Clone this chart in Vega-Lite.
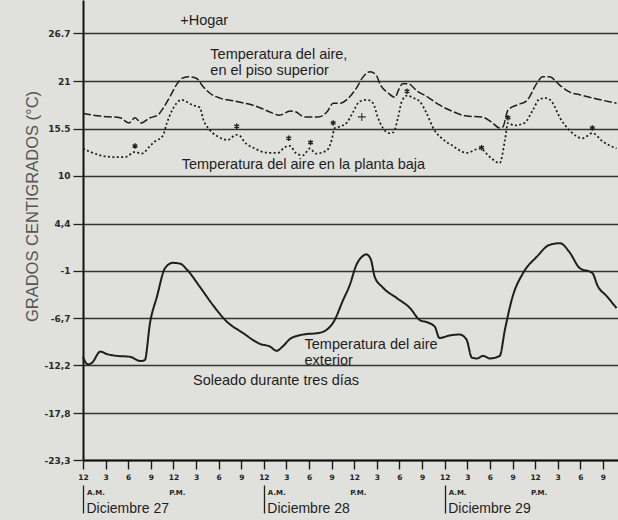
{
  "$schema": "https://vega.github.io/schema/vega-lite/v6.json",
  "width": 535,
  "height": 460,
  "autosize": {"type": "none"},
  "padding": {"left": 83, "top": 0, "right": 0, "bottom": 60},
  "background": "#e0e0dc",
  "config": {
    "view": {"stroke": null},
    "font": "Liberation Sans",
    "axis": {"labelOverlap": false, "labelFlush": false, "grid": false}
  },
  "datasets": {
    "aire": [
      {"h": 0, "t": 17.3, "serie": "superior"}, {"h": 2.3, "t": 17.0, "serie": "superior"}, {"h": 4.9, "t": 16.8, "serie": "superior"},
      {"h": 6.1, "t": 16.2, "serie": "superior"}, {"h": 6.9, "t": 16.8, "serie": "superior"}, {"h": 7.7, "t": 16.2, "serie": "superior"},
      {"h": 8.9, "t": 16.8, "serie": "superior"}, {"h": 9.9, "t": 17.1, "serie": "superior"}, {"h": 10.7, "t": 18.0, "serie": "superior"},
      {"h": 11.5, "t": 19.2, "serie": "superior"}, {"h": 12.5, "t": 20.8, "serie": "superior"}, {"h": 13.3, "t": 21.5, "serie": "superior"},
      {"h": 14.2, "t": 21.6, "serie": "superior"}, {"h": 15.1, "t": 21.4, "serie": "superior"}, {"h": 15.9, "t": 20.5, "serie": "superior"},
      {"h": 16.8, "t": 19.7, "serie": "superior"}, {"h": 18.2, "t": 19.1, "serie": "superior"}, {"h": 19.9, "t": 18.8, "serie": "superior"},
      {"h": 21.5, "t": 18.5, "serie": "superior"}, {"h": 22.8, "t": 18.2, "serie": "superior"}, {"h": 24.5, "t": 17.6, "serie": "superior"},
      {"h": 26.1, "t": 17.1, "serie": "superior"}, {"h": 27.5, "t": 17.6, "serie": "superior"}, {"h": 28.2, "t": 17.5, "serie": "superior"},
      {"h": 29.4, "t": 16.9, "serie": "superior"}, {"h": 31.2, "t": 16.9, "serie": "superior"}, {"h": 32.4, "t": 17.5, "serie": "superior"},
      {"h": 33.2, "t": 18.5, "serie": "superior"}, {"h": 34.1, "t": 18.5, "serie": "superior"}, {"h": 35.1, "t": 19.0, "serie": "superior"},
      {"h": 36.3, "t": 20.3, "serie": "superior"}, {"h": 37.1, "t": 21.5, "serie": "superior"}, {"h": 38.1, "t": 22.2, "serie": "superior"},
      {"h": 38.9, "t": 21.8, "serie": "superior"}, {"h": 39.5, "t": 20.6, "serie": "superior"}, {"h": 40.5, "t": 19.7, "serie": "superior"},
      {"h": 41.4, "t": 19.2, "serie": "superior"}, {"h": 41.9, "t": 20.1, "serie": "superior"}, {"h": 42.4, "t": 20.8, "serie": "superior"},
      {"h": 43.1, "t": 20.8, "serie": "superior"}, {"h": 44.4, "t": 19.9, "serie": "superior"}, {"h": 45.8, "t": 19.2, "serie": "superior"},
      {"h": 47.3, "t": 18.3, "serie": "superior"}, {"h": 48.9, "t": 17.6, "serie": "superior"}, {"h": 50.9, "t": 17.0, "serie": "superior"},
      {"h": 52.9, "t": 16.9, "serie": "superior"}, {"h": 54.2, "t": 16.3, "serie": "superior"}, {"h": 55.3, "t": 15.6, "serie": "superior"},
      {"h": 55.7, "t": 15.7, "serie": "superior"}, {"h": 56.4, "t": 17.7, "serie": "superior"}, {"h": 57.6, "t": 18.3, "serie": "superior"},
      {"h": 58.9, "t": 18.8, "serie": "superior"}, {"h": 60.2, "t": 20.8, "serie": "superior"}, {"h": 61.0, "t": 21.6, "serie": "superior"},
      {"h": 61.9, "t": 21.6, "serie": "superior"}, {"h": 63.3, "t": 20.6, "serie": "superior"}, {"h": 64.6, "t": 19.8, "serie": "superior"},
      {"h": 65.9, "t": 19.5, "serie": "superior"}, {"h": 68.2, "t": 19.0, "serie": "superior"}, {"h": 70.8, "t": 18.5, "serie": "superior"},

      {"h": 0, "t": 13.2, "serie": "baja"}, {"h": 2.3, "t": 12.4, "serie": "baja"}, {"h": 4.0, "t": 12.2, "serie": "baja"},
      {"h": 5.6, "t": 12.2, "serie": "baja"}, {"h": 6.9, "t": 12.8, "serie": "baja"}, {"h": 7.8, "t": 12.6, "serie": "baja"},
      {"h": 8.9, "t": 13.5, "serie": "baja"}, {"h": 9.5, "t": 14.0, "serie": "baja"}, {"h": 10.6, "t": 14.7, "serie": "baja"},
      {"h": 11.1, "t": 16.1, "serie": "baja"}, {"h": 11.9, "t": 17.8, "serie": "baja"}, {"h": 13.1, "t": 18.9, "serie": "baja"},
      {"h": 14.5, "t": 18.3, "serie": "baja"}, {"h": 15.5, "t": 18.0, "serie": "baja"}, {"h": 16.0, "t": 16.5, "serie": "baja"},
      {"h": 16.7, "t": 15.5, "serie": "baja"}, {"h": 17.9, "t": 14.6, "serie": "baja"}, {"h": 19.2, "t": 14.2, "serie": "baja"},
      {"h": 20.3, "t": 14.8, "serie": "baja"}, {"h": 20.8, "t": 14.7, "serie": "baja"}, {"h": 21.4, "t": 14.0, "serie": "baja"},
      {"h": 22.8, "t": 13.2, "serie": "baja"}, {"h": 24.5, "t": 12.7, "serie": "baja"}, {"h": 25.9, "t": 12.7, "serie": "baja"},
      {"h": 26.7, "t": 13.3, "serie": "baja"}, {"h": 27.5, "t": 13.5, "serie": "baja"}, {"h": 28.2, "t": 12.7, "serie": "baja"},
      {"h": 29.2, "t": 12.4, "serie": "baja"}, {"h": 30.1, "t": 13.2, "serie": "baja"}, {"h": 30.9, "t": 12.6, "serie": "baja"},
      {"h": 32.4, "t": 13.0, "serie": "baja"}, {"h": 33.0, "t": 14.2, "serie": "baja"}, {"h": 33.4, "t": 15.6, "serie": "baja"},
      {"h": 34.2, "t": 15.8, "serie": "baja"}, {"h": 35.0, "t": 16.2, "serie": "baja"}, {"h": 35.8, "t": 17.4, "serie": "baja"},
      {"h": 36.7, "t": 18.7, "serie": "baja"}, {"h": 37.7, "t": 18.9, "serie": "baja"}, {"h": 38.5, "t": 18.5, "serie": "baja"},
      {"h": 39.1, "t": 16.9, "serie": "baja"}, {"h": 39.8, "t": 15.6, "serie": "baja"}, {"h": 40.6, "t": 15.0, "serie": "baja"},
      {"h": 41.2, "t": 15.1, "serie": "baja"}, {"h": 41.8, "t": 16.8, "serie": "baja"}, {"h": 42.3, "t": 18.7, "serie": "baja"},
      {"h": 43.0, "t": 19.4, "serie": "baja"}, {"h": 43.9, "t": 19.1, "serie": "baja"}, {"h": 44.7, "t": 18.7, "serie": "baja"},
      {"h": 45.5, "t": 17.5, "serie": "baja"}, {"h": 46.6, "t": 15.4, "serie": "baja"}, {"h": 47.6, "t": 14.4, "serie": "baja"},
      {"h": 48.9, "t": 13.6, "serie": "baja"}, {"h": 50.9, "t": 12.7, "serie": "baja"}, {"h": 52.7, "t": 13.2, "serie": "baja"},
      {"h": 54.0, "t": 12.2, "serie": "baja"}, {"h": 55.3, "t": 11.5, "serie": "baja"}, {"h": 56.0, "t": 14.2, "serie": "baja"},
      {"h": 56.4, "t": 16.2, "serie": "baja"}, {"h": 57.2, "t": 15.9, "serie": "baja"}, {"h": 58.6, "t": 16.2, "serie": "baja"},
      {"h": 59.7, "t": 17.7, "serie": "baja"}, {"h": 60.6, "t": 19.0, "serie": "baja"}, {"h": 61.5, "t": 19.1, "serie": "baja"},
      {"h": 62.2, "t": 18.7, "serie": "baja"}, {"h": 63.3, "t": 16.8, "serie": "baja"}, {"h": 64.6, "t": 15.3, "serie": "baja"},
      {"h": 66.3, "t": 14.4, "serie": "baja"}, {"h": 67.6, "t": 15.0, "serie": "baja"}, {"h": 69.0, "t": 14.0, "serie": "baja"},
      {"h": 70.8, "t": 13.2, "serie": "baja"},

      {"h": 0, "t": -11.2, "serie": "exterior"}, {"h": 0.3, "t": -11.8, "serie": "exterior"}, {"h": 0.7, "t": -12.1, "serie": "exterior"},
      {"h": 1.2, "t": -11.9, "serie": "exterior"}, {"h": 2.3, "t": -10.6, "serie": "exterior"}, {"h": 3.2, "t": -10.9, "serie": "exterior"},
      {"h": 4.5, "t": -11.1, "serie": "exterior"}, {"h": 6.2, "t": -11.2, "serie": "exterior"}, {"h": 7.6, "t": -11.7, "serie": "exterior"},
      {"h": 8.2, "t": -11.6, "serie": "exterior"}, {"h": 8.9, "t": -7.2, "serie": "exterior"}, {"h": 9.8, "t": -4.2, "serie": "exterior"},
      {"h": 10.9, "t": -0.8, "serie": "exterior"}, {"h": 11.9, "t": -0.2, "serie": "exterior"}, {"h": 12.9, "t": -0.3, "serie": "exterior"},
      {"h": 13.8, "t": -1.0, "serie": "exterior"}, {"h": 15.5, "t": -3.0, "serie": "exterior"}, {"h": 17.2, "t": -5.1, "serie": "exterior"},
      {"h": 19.1, "t": -7.1, "serie": "exterior"}, {"h": 21.2, "t": -8.4, "serie": "exterior"}, {"h": 23.5, "t": -9.7, "serie": "exterior"},
      {"h": 24.8, "t": -10.0, "serie": "exterior"}, {"h": 25.7, "t": -10.5, "serie": "exterior"}, {"h": 26.5, "t": -10.0, "serie": "exterior"},
      {"h": 27.5, "t": -9.1, "serie": "exterior"}, {"h": 29.2, "t": -8.6, "serie": "exterior"}, {"h": 31.4, "t": -8.4, "serie": "exterior"},
      {"h": 33.2, "t": -7.2, "serie": "exterior"}, {"h": 34.5, "t": -4.6, "serie": "exterior"}, {"h": 35.4, "t": -2.8, "serie": "exterior"},
      {"h": 36.3, "t": -0.4, "serie": "exterior"}, {"h": 37.0, "t": 0.5, "serie": "exterior"}, {"h": 37.6, "t": 0.8, "serie": "exterior"},
      {"h": 38.2, "t": 0.2, "serie": "exterior"},
      {"h": 38.7, "t": -1.8, "serie": "exterior"}, {"h": 39.8, "t": -3.1, "serie": "exterior"}, {"h": 41.6, "t": -4.3, "serie": "exterior"},
      {"h": 43.4, "t": -5.5, "serie": "exterior"}, {"h": 44.7, "t": -6.9, "serie": "exterior"}, {"h": 45.8, "t": -7.2, "serie": "exterior"},
      {"h": 46.7, "t": -7.7, "serie": "exterior"}, {"h": 47.3, "t": -9.0, "serie": "exterior"}, {"h": 48.7, "t": -8.7, "serie": "exterior"},
      {"h": 50.0, "t": -8.6, "serie": "exterior"}, {"h": 50.9, "t": -9.2, "serie": "exterior"}, {"h": 51.6, "t": -11.3, "serie": "exterior"},
      {"h": 52.3, "t": -11.4, "serie": "exterior"}, {"h": 53.1, "t": -11.1, "serie": "exterior"}, {"h": 54.0, "t": -11.4, "serie": "exterior"},
      {"h": 55.3, "t": -11.1, "serie": "exterior"}, {"h": 56.0, "t": -8.0, "serie": "exterior"}, {"h": 57.0, "t": -4.2, "serie": "exterior"},
      {"h": 58.4, "t": -1.4, "serie": "exterior"}, {"h": 60.2, "t": 0.5, "serie": "exterior"}, {"h": 61.9, "t": 1.9, "serie": "exterior"},
      {"h": 63.3, "t": 2.1, "serie": "exterior"}, {"h": 64.6, "t": 1.0, "serie": "exterior"}, {"h": 65.9, "t": -0.8, "serie": "exterior"},
      {"h": 67.6, "t": -1.4, "serie": "exterior"}, {"h": 68.3, "t": -2.9, "serie": "exterior"}, {"h": 69.5, "t": -4.1, "serie": "exterior"},
      {"h": 70.8, "t": -5.5, "serie": "exterior"}
    ],
    "asteriscos": [
      {"h": 6.9, "t": 13.5}, {"h": 20.4, "t": 15.8}, {"h": 27.3, "t": 14.4}, {"h": 30.2, "t": 13.9},
      {"h": 33.2, "t": 16.2}, {"h": 43.0, "t": 19.9}, {"h": 52.9, "t": 13.3}, {"h": 56.4, "t": 16.8},
      {"h": 67.6, "t": 15.6}
    ],
    "hogar": [
      {"h": 37.0, "t": 16.9}
    ],
    "rotulos": [
      {"h": 12.9, "t": 28.1, "texto": "+Hogar"},
      {"h": 16.9, "t": 24.2, "texto": "Temperatura del aire,"},
      {"h": 16.9, "t": 22.3, "texto": "en el piso superior"},
      {"h": 13.1, "t": 11.3, "texto": "Temperatura del aire en la planta baja"},
      {"h": 29.4, "t": -9.8, "texto": "Temperatura del aire"},
      {"h": 29.4, "t": -11.7, "texto": "exterior"},
      {"h": 14.6, "t": -14.0, "texto": "Soleado durante tres días"}
    ]
  },
  "resolve": {"axis": {"x": "independent", "y": "independent"}},
  "layer": [
    {
      "data": {"name": "aire"},
      "mark": {"type": "line", "interpolate": "monotone", "color": "#1e1e1e"},
      "encoding": {
        "x": {
          "field": "h", "type": "quantitative",
          "scale": {"domain": [0, 71], "nice": false, "zero": false},
          "axis": {
            "orient": "bottom",
            "title": null,
            "values": [0, 3, 6, 9, 12, 15, 18, 21, 24, 27, 30, 33, 36, 39, 42, 45, 48, 51, 54, 57, 60, 63, 66, 69],
            "labelExpr": "(datum.value % 12) === 0 ? '12' : '' + (datum.value % 12)",
            "labelFont": "DejaVu Sans", "labelFontWeight": "bold", "labelFontSize": 7.5, "labelColor": "#222",
            "labelPadding": 4,
            "tickSize": 9, "tickWidth": 1.4, "tickColor": "#1a1a1a",
            "domainColor": "#111", "domainWidth": 2
          }
        },
        "y": {
          "field": "t", "type": "quantitative",
          "scale": {"domain": [-23.3, 30.6], "nice": false, "zero": false},
          "axis": {
            "orient": "left",
            "title": "GRADOS CENTIGRADOS (°C)",
            "titleFont": "Liberation Sans", "titleFontWeight": "normal", "titleFontSize": 16.5, "titleColor": "#555",
            "titleAngle": -90, "titleX": -51, "titleY": 206, "titleAlign": "center", "titleBaseline": "middle",
            "values": [26.7, 21.1, 15.5, 10, 4.4, -1.1, -6.7, -12.2, -17.8, -23.3],
            "labelExpr": "datum.value === 26.7 ? '26.7' : datum.value === 21.1 ? '21' : datum.value === 15.5 ? '15.5' : datum.value === 10 ? '10' : datum.value === 4.4 ? '4,4' : datum.value === -1.1 ? '-1' : datum.value === -6.7 ? '-6,7' : datum.value === -12.2 ? '-12,2' : datum.value === -17.8 ? '-17,8' : '-23,3'",
            "labelFont": "DejaVu Sans", "labelFontWeight": "bold", "labelFontSize": 9, "labelColor": "#2a2a2a",
            "labelPadding": 3,
            "tickSize": 10, "tickWidth": 1.3, "tickColor": "#222",
            "domainColor": "#111", "domainWidth": 2,
            "grid": true, "gridColor": "#333", "gridWidth": 1.4
          }
        },
        "strokeDash": {
          "field": "serie", "type": "nominal",
          "scale": {"domain": ["superior", "baja", "exterior"], "range": [[8, 2.5], [2, 2.4], [1, 0]]},
          "legend": null
        },
        "strokeWidth": {
          "field": "serie", "type": "nominal",
          "scale": {"domain": ["superior", "baja", "exterior"], "range": [1.5, 2, 1.6]},
          "legend": null
        }
      }
    },
    {
      "data": {"name": "asteriscos"},
      "mark": {"type": "point", "shape": "M0,-1L0,1M-0.87,-0.5L0.87,0.5M-0.87,0.5L0.87,-0.5", "size": 30, "filled": false, "strokeWidth": 1.4, "color": "#222", "opacity": 1},
      "encoding": {
        "x": {
          "field": "h", "type": "quantitative",
          "scale": {"domain": [0, 71], "nice": false, "zero": false},
          "axis": {
            "orient": "bottom",
            "title": null,
            "values": [0, 12, 24, 36, 48, 60],
            "labelExpr": "(datum.value % 24) === 0 ? 'A.M.' : 'P.M.'",
            "labelAlign": {"condition": {"test": "(datum.value % 24) === 0", "value": "left"}, "value": "center"},
            "labelOffset": 3.5,
            "labelBaseline": "middle",
            "labelPadding": 32,
            "labelFont": "DejaVu Sans", "labelFontWeight": "bold", "labelFontSize": 7, "labelColor": "#222",
            "ticks": false, "domain": false
          }
        },
        "y": {"field": "t", "type": "quantitative", "scale": {"domain": [-23.3, 30.6], "nice": false, "zero": false}, "axis": null}
      }
    },
    {
      "data": {"name": "hogar"},
      "mark": {"type": "point", "shape": "M-1,0L1,0M0,-1L0,1", "size": 64, "filled": false, "strokeWidth": 1.1, "color": "#333", "opacity": 1},
      "encoding": {
        "x": {"field": "h", "type": "quantitative", "scale": {"domain": [0, 71], "nice": false, "zero": false}, "axis": null},
        "y": {"field": "t", "type": "quantitative", "scale": {"domain": [-23.3, 30.6], "nice": false, "zero": false}, "axis": null}
      }
    },
    {
      "data": {"name": "rotulos"},
      "mark": {"type": "text", "align": "left", "baseline": "middle", "font": "Liberation Sans", "fontSize": 14.5, "color": "#1e1e1e"},
      "encoding": {
        "x": {
          "field": "h", "type": "quantitative",
          "scale": {"domain": [0, 71], "nice": false, "zero": false},
          "axis": {
            "orient": "bottom",
            "title": null,
            "offset": 25,
            "values": [0, 24, 48],
            "labelExpr": "'Diciembre ' + (27 + datum.value / 24)",
            "labelAlign": "left", "labelBaseline": "middle",
            "labelOffset": 3, "labelPadding": -5,
            "labelFont": "Liberation Sans", "labelFontSize": 14, "labelColor": "#1e1e1e",
            "tickSize": 28, "tickWidth": 1.3, "tickColor": "#222",
            "domain": false
          }
        },
        "y": {"field": "t", "type": "quantitative", "scale": {"domain": [-23.3, 30.6], "nice": false, "zero": false}, "axis": null},
        "text": {"field": "texto"}
      }
    }
  ]
}
